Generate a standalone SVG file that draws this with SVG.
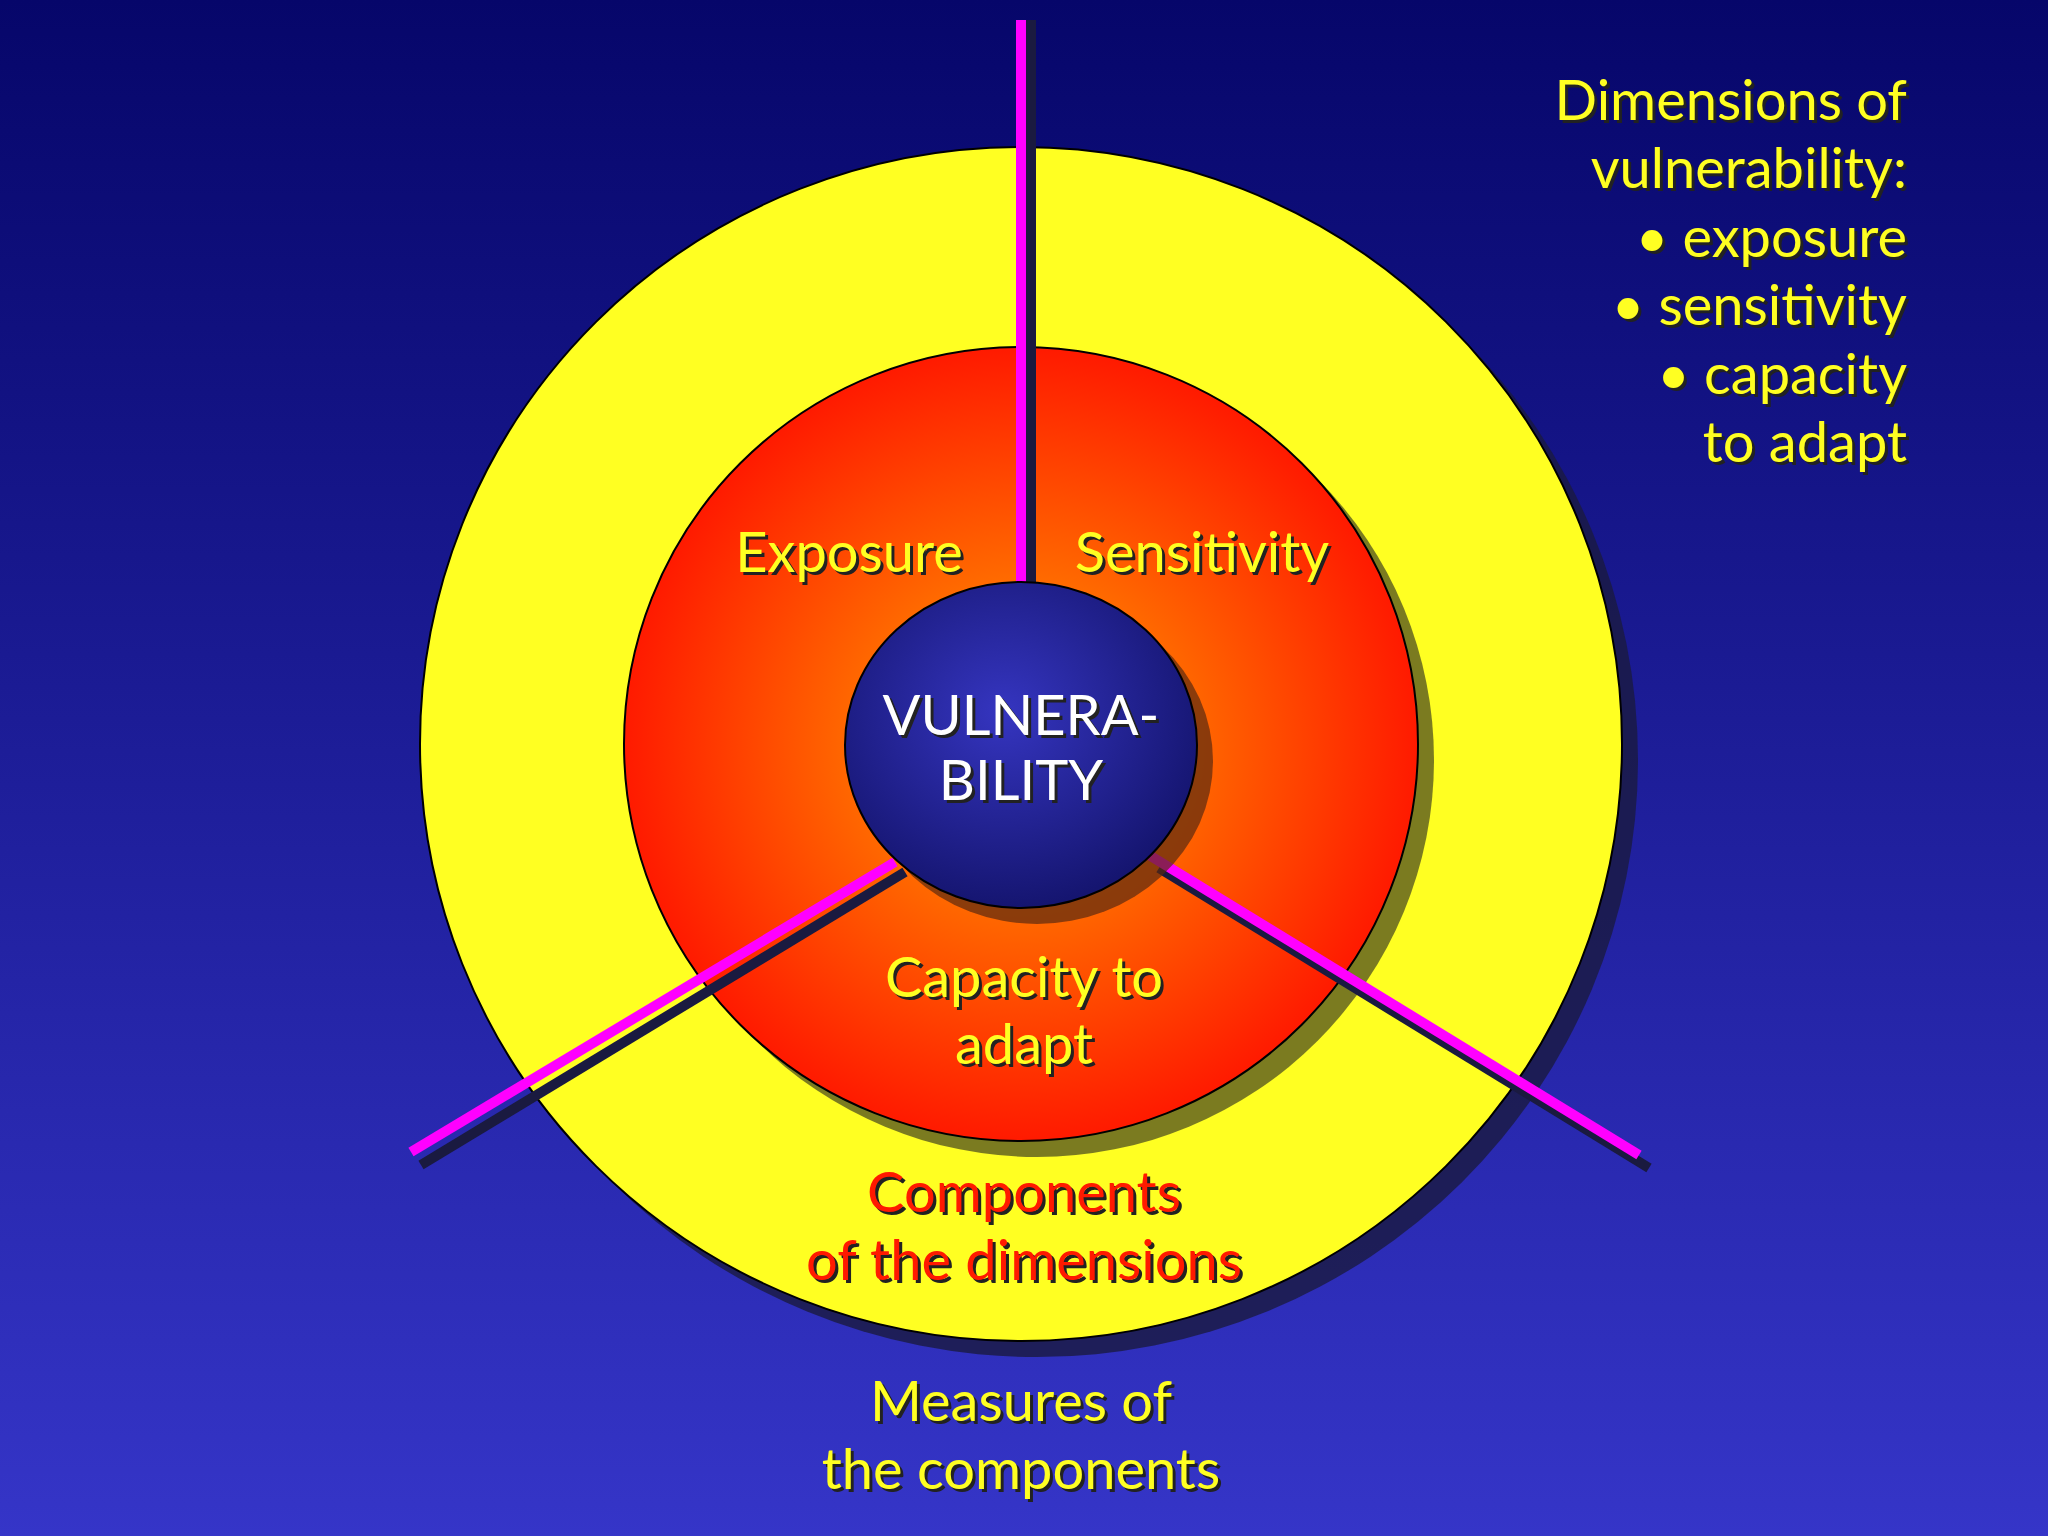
<svg xmlns="http://www.w3.org/2000/svg" width="2048" height="1536" viewBox="0 0 2048 1536">
<defs>
<linearGradient id="bg" x1="0" y1="0" x2="0" y2="1"><stop offset="0" stop-color="#06066a"/><stop offset="1" stop-color="#3535c8"/></linearGradient>
<radialGradient id="red" cx="0.5" cy="0.5" r="0.5"><stop offset="0.3" stop-color="#ff7a00"/><stop offset="1" stop-color="#ff1a00"/></radialGradient>
<radialGradient id="blue" cx="0.45" cy="0.4" r="0.6"><stop offset="0" stop-color="#3535c0"/><stop offset="1" stop-color="#151570"/></radialGradient>
<style>
text{font-family:"Comic Sans MS","Lato","DejaVu Sans",sans-serif;font-size:56px;text-anchor:middle}
.y{fill:#ffff22}.w{fill:#ffffff}.r{fill:#ff1a00}
.sh{fill:#222222}
.mag{stroke:#ff00ff;stroke-width:10}
.magsh{stroke:#1a1a40;stroke-width:10}
</style>
</defs>
<rect width="2048" height="1536" fill="url(#bg)"/>
<g id="outer"><ellipse cx="1037" cy="760" rx="601" ry="597" fill="#1a1a40" opacity="0.8"/><ellipse cx="1021" cy="744" rx="601" ry="597" fill="#ffff22" stroke="#000" stroke-width="2"/></g>
<g id="middle"><circle cx="1037" cy="760" r="397" fill="#5a5a20" opacity="0.8"/><circle cx="1021" cy="744" r="397" fill="url(#red)" stroke="#000" stroke-width="2"/></g>
<g id="connectors">
<line class="magsh" x1="1031" y1="20" x2="1031" y2="583"/>
<line class="magsh" x1="905" y1="872" x2="421" y2="1165"/>
<line class="magsh" x1="1159" y1="868" x2="1649" y2="1168"/>
<line class="mag" x1="1021" y1="20" x2="1021" y2="583"/>
<line class="mag" x1="895" y1="862" x2="411" y2="1152"/>
<line class="mag" x1="1149" y1="855" x2="1639" y2="1155"/>
</g>
<g id="center"><ellipse cx="1037" cy="761" rx="176" ry="163" fill="#5a2a10" opacity="0.7"/><ellipse cx="1021" cy="745" rx="176" ry="163" fill="url(#blue)" stroke="#000" stroke-width="2"/>
<text class="sh" x="1024" y="738">VULNERA-</text><text class="w" x="1021" y="735">VULNERA-</text>
<text class="sh" x="1024" y="803">BILITY</text><text class="w" x="1021" y="800">BILITY</text></g>
<g id="exposure"><text class="sh" x="852" y="575">Exposure</text><text class="y" x="849" y="572">Exposure</text></g>
<g id="sensitivity"><text class="sh" x="1205" y="575">Sensitivity</text><text class="y" x="1202" y="572">Sensitivity</text></g>
<g id="capacity"><text class="sh" x="1027" y="1000">Capacity to</text><text class="y" x="1024" y="997">Capacity to</text>
<text class="sh" x="1027" y="1067">adapt</text><text class="y" x="1024" y="1064">adapt</text></g>
<g id="components"><text class="sh" x="1027" y="1215">Components</text><text class="r" x="1024" y="1212">Components</text>
<text class="sh" x="1027" y="1283">of the dimensions</text><text class="r" x="1024" y="1280">of the dimensions</text></g>
<g id="measures"><text class="sh" x="1024" y="1424">Measures of</text><text class="y" x="1021" y="1421">Measures of</text>
<text class="sh" x="1024" y="1492">the components</text><text class="y" x="1021" y="1489">the components</text></g>
<g id="dimensions" style="text-anchor:end">
<text class="sh" x="1910" y="123" style="text-anchor:end">Dimensions of</text><text class="y" x="1907" y="120" style="text-anchor:end">Dimensions of</text>
<text class="sh" x="1910" y="191" style="text-anchor:end">vulnerability:</text><text class="y" x="1907" y="188" style="text-anchor:end">vulnerability:</text>
<text class="sh" x="1910" y="260" style="text-anchor:end">• exposure</text><text class="y" x="1907" y="257" style="text-anchor:end">• exposure</text>
<text class="sh" x="1910" y="328" style="text-anchor:end">• sensitivity</text><text class="y" x="1907" y="325" style="text-anchor:end">• sensitivity</text>
<text class="sh" x="1910" y="397" style="text-anchor:end">• capacity</text><text class="y" x="1907" y="394" style="text-anchor:end">• capacity</text>
<text class="sh" x="1910" y="465" style="text-anchor:end">to adapt</text><text class="y" x="1907" y="462" style="text-anchor:end">to adapt</text>
</g>
</svg>
